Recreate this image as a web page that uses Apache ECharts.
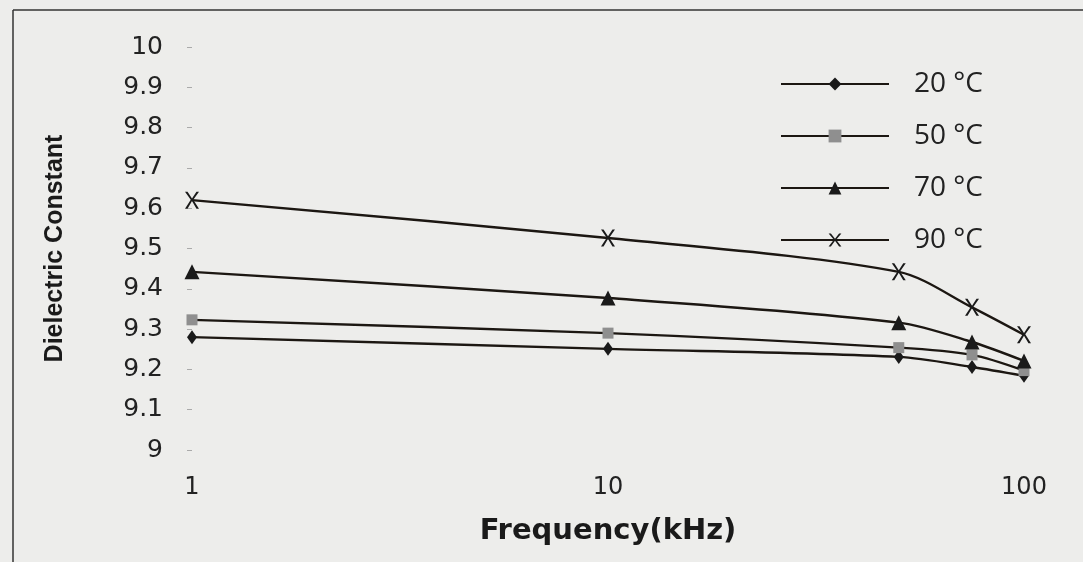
<!DOCTYPE html>
<html>
<head>
<meta charset="utf-8">
<script src="https://cdn.jsdelivr.net/npm/echarts@6/dist/echarts.min.js"></script>
<style>
html,body{margin:0;padding:0;background:#ededeb;}
#chart{width:1083px;height:562px;}
</style>
</head>
<body>
<div id="chart"></div>
<script>
// Data
const frequencies = [1, 10, 50, 75, 100]; // kHz
const seriesNames = ['20 °C', '50 °C', '70 °C', '90 °C'];
const values20 = [9.280, 9.251, 9.231, 9.206, 9.184];
const values50 = [9.323, 9.290, 9.254, 9.236, 9.197];
const values70 = [9.442, 9.377, 9.316, 9.268, 9.221];
const values90 = [9.620, 9.526, 9.442, 9.354, 9.286];
const yTicks = [9, 9.1, 9.2, 9.3, 9.4, 9.5, 9.6, 9.7, 9.8, 9.9, 10];
const xTicks = [1, 10, 100];

const lineColor = '#1c1712';
const xSymbol = 'path://M0,0L1.8,0L5,5.2L8.2,0L10,0L5.9,6.2L10,13L8.2,13L5,7.2L1.8,13L0,13L4.1,6.2Z';

function pairs(vals){ return frequencies.map((f,i)=>[f, vals[i]]); }

const chart = echarts.init(document.getElementById('chart'));
const mk = (name, vals, symbol, size, color) => ({
  name: name, type: 'line', data: pairs(vals), smooth: 0.3,
  symbol: symbol, symbolSize: size, showSymbol: true,
  lineStyle: {color: lineColor, width: 2.4},
  itemStyle: {color: color},
  z: 3
});
chart.setOption({
  backgroundColor: '#ededeb',
  animation: false,
  grid: {left: 192, right: 59, top: 47, bottom: 112},
  legend: {
    orient: 'vertical', left: 775, top: 64,
    itemWidth: 108, itemHeight: 16, itemGap: 22,
    data: seriesNames,
    textStyle: {fontFamily: '"Liberation Sans Narrow","Open Sans",sans-serif', fontSize: 28, color: '#222', lineHeight: 30, padding: [0,0,0,20]}
  },
  xAxis: {
    type: 'log', logBase: 10, min: 1, max: 100,
    name: 'Frequency(kHz)', nameLocation: 'middle', nameGap: 67,
    nameTextStyle: {fontFamily: '"DejaVu Sans",sans-serif', fontWeight: 'bold', fontSize: 29, color: '#1a1a1a'},
    axisLine: {show: false}, axisTick: {show: false}, splitLine: {show: false},
    axisLabel: {fontFamily: '"DejaVu Sans",sans-serif', fontSize: 24, color: '#222', margin: 26,
      formatter: v => xTicks.includes(Math.round(v)) ? String(Math.round(v)) : ''}
  },
  yAxis: {
    type: 'value', min: yTicks[0], max: yTicks[yTicks.length-1], interval: 0.1,
    name: 'Dielectric Constant', nameLocation: 'middle', nameGap: 124,
    nameTextStyle: {fontFamily: '"Liberation Sans Narrow","Liberation Sans",sans-serif', fontSize: 25, color: '#1a1a1a', fontWeight: 'bold'},
    axisLine: {show: false},
    axisTick: {show: true, inside: false, length: 5, lineStyle: {color: '#aaa'}},
    splitLine: {show: false},
    axisLabel: {fontFamily: '"DejaVu Sans",sans-serif', fontSize: 25, color: '#222', margin: 29,
      formatter: v => String(Math.round(v*10)/10)}
  },
  graphic: [
    {type: 'line', shape: {x1: 13, y1: 10, x2: 1083, y2: 10}, style: {stroke: '#333', lineWidth: 1.5}},
    {type: 'line', shape: {x1: 13, y1: 10, x2: 13, y2: 562}, style: {stroke: '#333', lineWidth: 1.5}}
  ],
  series: [
    mk(seriesNames[0], values20, 'diamond', [10, 14], '#1a1a1a'),
    mk(seriesNames[1], values50, 'rect', 11, '#8f8f8f'),
    mk(seriesNames[2], values70, 'triangle', 15, '#1a1a1a'),
    mk(seriesNames[3], values90, xSymbol, [14, 17], '#1a1a1a')
  ]
});
</script>
</body>
</html>
